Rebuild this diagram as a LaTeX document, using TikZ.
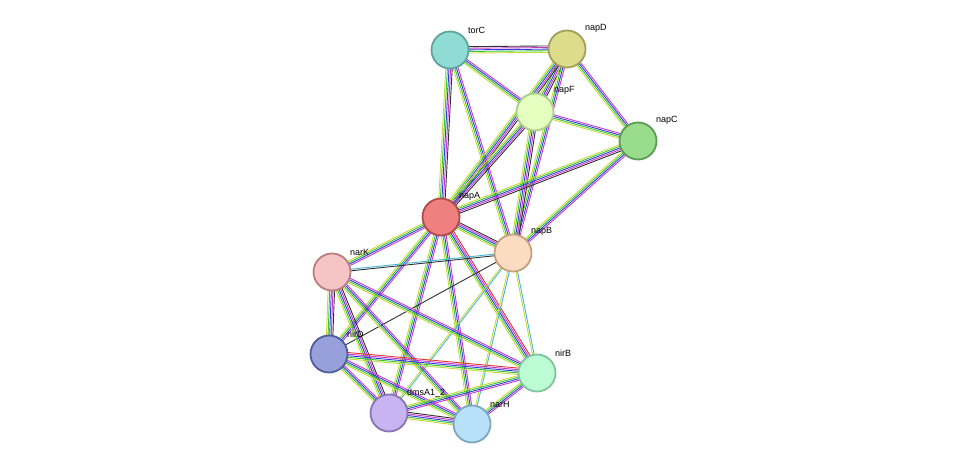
\documentclass[tikz,border=0pt]{standalone}
\usepackage{fontspec}
\setmainfont{Liberation Sans}
\usetikzlibrary{calc,backgrounds}
\definecolor{sg}{HTML}{33C733}
\definecolor{sb}{HTML}{3838E0}
\definecolor{sm}{HTML}{C838C8}
\definecolor{sy}{HTML}{C8D83A}
\definecolor{sk}{HTML}{303030}
\definecolor{sc}{HTML}{40B8D8}
\definecolor{sr}{HTML}{E03434}
\newcommand\ed[3]{\foreach \c/\o in #3{\draw[\c,line width=0.9pt] ($(#1)!{\o*1.6pt}!90:(#2)$) -- ($(#2)!{\o*1.6pt}!-90:(#1)$);}}
\def\lfull{sy/-2,sg/-1,sb/0,sm/1,sk/2}
\def\lmid{sy/-1.5,sg/-0.5,sb/0.5,sm/1.5}
\def\lred{sy/-2,sg/-1,sb/0,sm/1,sr/2}
\def\ldb{sy/-0.5,sc/0.5}
\def\lck{sc/-0.5,sk/0.5}
\def\lk{sk/0}
\tikzset{prot/.style={circle,minimum size=37pt,inner sep=0pt,line width=1.8pt},
lab/.style={font=\fontsize{9}{10}\selectfont,anchor=south west,inner sep=1pt}}
\begin{document}
\begin{tikzpicture}[x=1pt,y=-1pt]
\useasboundingbox (0,0) rectangle (976,470);
\node[prot,fill={rgb,255:red,143;green,220;blue,212},draw={rgb,255:red,95;green,165;blue,157}] (torC) at (450,50) {};
\node[prot,fill={rgb,255:red,220;green,220;blue,140},draw={rgb,255:red,160;green,160;blue,90}] (napD) at (567,49) {};
\node[prot,fill={rgb,255:red,228;green,255;blue,192},draw={rgb,255:red,169;green,207;blue,134}] (napF) at (535,112) {};
\node[prot,fill={rgb,255:red,152;green,220;blue,140},draw={rgb,255:red,90;green,156;blue,85}] (napC) at (638,141) {};
\node[prot,fill={rgb,255:red,240;green,128;blue,128},draw={rgb,255:red,176;green,74;blue,74}] (napA) at (441,217) {};
\node[prot,fill={rgb,255:red,252;green,220;blue,192},draw={rgb,255:red,196;green,160;blue,124}] (napB) at (513,253) {};
\node[prot,fill={rgb,255:red,246;green,196;blue,196},draw={rgb,255:red,184;green,128;blue,128}] (narK) at (332,272) {};
\node[prot,fill={rgb,255:red,152;green,160;blue,220},draw={rgb,255:red,80;green,94;blue,156}] (nirD) at (329,354) {};
\node[prot,fill={rgb,255:red,188;green,252;blue,212},draw={rgb,255:red,128;green,196;blue,156}] (nirB) at (537,373) {};
\node[prot,fill={rgb,255:red,200;green,180;blue,240},draw={rgb,255:red,138;green,116;blue,180}] (dms) at (389,413) {};
\node[prot,fill={rgb,255:red,184;green,224;blue,248},draw={rgb,255:red,122;green,168;blue,196}] (narH) at (472,424) {};
\node[lab] at (467,35) {torC};
\node[lab] at (584,34) {napD};
\node[lab] at (553,96) {napF};
\node[lab] at (655,126) {napC};
\node[lab] at (458,202) {napA};
\node[lab] at (530,237) {napB};
\node[lab] at (349,257) {narK};
\node[lab] at (346,339) {nirD};
\node[lab] at (554,358) {nirB};
\node[lab] at (406,398) {dmsA1\_2};
\node[lab] at (489,409) {narH};
\begin{scope}[on background layer]
\ed{torC}{napD}{\lfull}
\ed{torC}{napF}{\lmid}
\ed{torC}{napA}{\lfull}
\ed{torC}{napB}{\lmid}
\ed{napD}{napF}{\lfull}
\ed{napD}{napC}{\lmid}
\ed{napD}{napA}{\lfull}
\ed{napD}{napB}{\lmid}
\ed{napF}{napC}{\lmid}
\ed{napF}{napA}{\lfull}
\ed{napF}{napB}{\lfull}
\ed{napC}{napA}{\lfull}
\ed{napC}{napB}{\lmid}
\ed{napA}{napB}{\lfull}
\ed{napA}{narK}{\lmid}
\ed{napA}{nirD}{\lmid}
\ed{napA}{nirB}{\lred}
\ed{napA}{dms}{\lmid}
\ed{napA}{narH}{\lmid}
\ed{napB}{narK}{\lck}
\ed{napB}{nirD}{\lk}
\ed{napB}{nirB}{\ldb}
\ed{napB}{dms}{\ldb}
\ed{napB}{narH}{\ldb}
\ed{narK}{nirD}{\lfull}
\ed{narK}{nirB}{\lmid}
\ed{narK}{dms}{\lfull}
\ed{narK}{narH}{\lmid}
\ed{nirD}{nirB}{\lred}
\ed{nirD}{dms}{\lmid}
\ed{nirD}{narH}{\lmid}
\ed{nirB}{dms}{\lmid}
\ed{nirB}{narH}{\lmid}
\ed{dms}{narH}{\lfull}
\end{scope}
\end{tikzpicture}
\end{document}
